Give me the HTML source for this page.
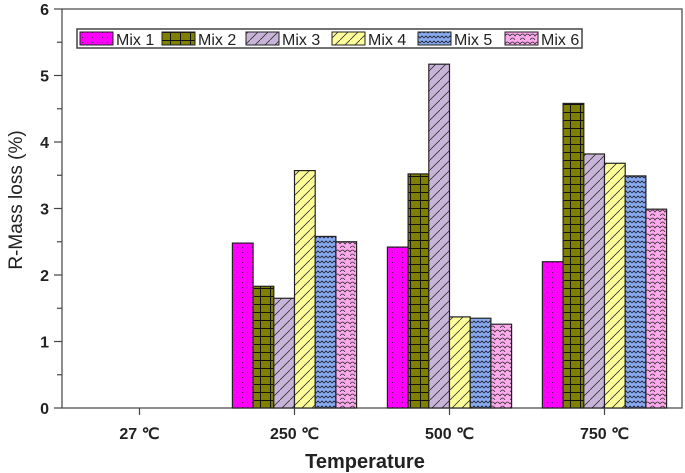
<!DOCTYPE html>
<html><head><meta charset="utf-8"><style>
body{margin:0;background:#fff;}
svg{display:block;font-family:"Liberation Sans",Arial,sans-serif;}
</style></head><body>
<svg id="c" width="685" height="473">
<defs>
<pattern id="p0" width="5" height="5" patternUnits="userSpaceOnUse"><rect width="5" height="5" fill="#ff00ff"/><rect x="2" y="2" width="1" height="1" fill="#552255"/></pattern>
<pattern id="p1" width="10" height="8" patternUnits="userSpaceOnUse"><rect width="10" height="8" fill="#808000"/><path d="M0 0.5H10M0.5 0V8" stroke="#111" stroke-width="1"/></pattern>
<pattern id="p2" width="10" height="10" patternUnits="userSpaceOnUse"><rect width="10" height="10" fill="#c8b4d8"/><path d="M0 10L10 0" stroke="#333" stroke-width="0.8"/></pattern>
<pattern id="p3" width="10" height="10" patternUnits="userSpaceOnUse"><rect width="10" height="10" fill="#ffff99"/><path d="M0 10L10 0" stroke="#333" stroke-width="0.8"/></pattern>
<pattern id="p4" width="8" height="5" patternUnits="userSpaceOnUse"><rect width="8" height="5" fill="#88aaee"/><path d="M0 3L2 1L4 3L6 1L8 3" fill="none" stroke="#223" stroke-width="0.8"/></pattern>
<pattern id="p5" width="10" height="8" patternUnits="userSpaceOnUse"><rect width="10" height="8" fill="#ffaaee"/><path d="M0 4Q2.5 0 5 4Q7.5 0 10 4M0 8Q2.5 4 5 8" fill="none" stroke="#333" stroke-width="0.8"/></pattern>
</defs>
<g id="plot"></g>
</svg>
<script>
const categories=["27 ℃","250 ℃","500 ℃","750 ℃"];
const seriesNames=["Mix 1","Mix 2","Mix 3","Mix 4","Mix 5","Mix 6"];
const mix1=[0,2.48,2.42,2.2];
const mix2=[0,1.83,3.52,4.58];
const mix3=[0,1.65,5.17,3.82];
const mix4=[0,3.57,1.37,3.68];
const mix5=[0,2.58,1.35,3.49];
const mix6=[0,2.50,1.26,2.99];
const yTicks=[0,1,2,3,4,5,6];
const series=[mix1,mix2,mix3,mix4,mix5,mix6];
const NS="http://www.w3.org/2000/svg";
const g=document.getElementById('plot');
const L=62,R=682,T=9,B=408;
const ymax=6;
const y=v=>B-(v/ymax)*(B-T);
const bw=(R-L)/categories.length;
const x=i=>L+bw*(i+0.5);
const barW=20.7;
function mk(t,a,txt){const e=document.createElementNS(NS,t);for(const k in a)e.setAttribute(k,a[k]);if(txt!=null)e.textContent=txt;g.appendChild(e);return e;}
let f=mk('rect',{x:L,y:T,width:R-L,height:B-T,fill:'none',stroke:'#444','stroke-width':1.2});


series.forEach((s,si)=>{s.forEach((v,ci)=>{if(v<=0)return;
 const bx=x(ci)-3*barW+si*barW;
 const r=mk('rect',{x:bx,y:y(v),width:barW,height:B-y(v),fill:'url(#p'+si+')',stroke:'#222','stroke-width':1.2});
 
 
});});
yTicks.forEach(t=>{
 mk('line',{x1:L-8,x2:L,y1:y(t),y2:y(t),stroke:'#444','stroke-width':1.2});
 if(t<ymax) mk('line',{x1:L-5,x2:L,y1:y(t+0.5),y2:y(t+0.5),stroke:'#444','stroke-width':1.2});
 const l=mk('text',{x:L-13,y:y(t)+6,'text-anchor':'end','font-size':16,'font-weight':'bold',fill:'#222'},t);
 
 
});
categories.forEach((c,i)=>{
 mk('line',{x1:x(i),x2:x(i),y1:B,y2:B+7,stroke:'#444','stroke-width':1.2});
 const l=mk('text',{x:x(i),y:439,'text-anchor':'middle','font-size':16,'font-weight':'bold',fill:'#222'},c);
 
 
});
let xt=mk('text',{x:365,y:468,'text-anchor':'middle','font-size':20,'font-weight':'bold',fill:'#222'},'Temperature');


let yt=mk('text',{x:0,y:0,'text-anchor':'middle','font-size':19,fill:'#222',transform:'translate(22,200) rotate(-90)'},'R-Mass loss (%)');


let lg=mk('rect',{x:77,y:29,width:505,height:19,fill:'#fff',stroke:'#444','stroke-width':1.5});


const lx=[80,162,246,332,418,505];
seriesNames.forEach((n,i)=>{
 const s=mk('rect',{x:lx[i],y:32,width:33,height:13,fill:'url(#p'+i+')',stroke:'#222','stroke-width':1});
 
 
 const t=mk('text',{x:lx[i]+36,y:45,'font-size':16,fill:'#222'},n);
 
 
});
</script>
</body></html>
